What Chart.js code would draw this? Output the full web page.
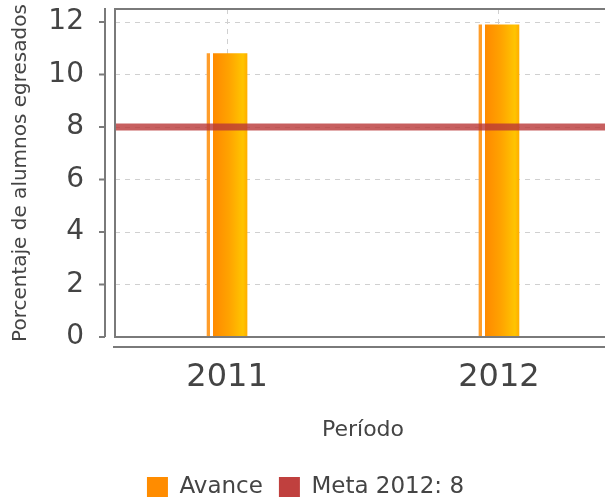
<!DOCTYPE html>
<html>
<head>
<meta charset="utf-8">
<script src="https://cdn.jsdelivr.net/npm/chart.js@4"></script>
<style>
  html, body { margin: 0; padding: 0; background: #fff; overflow: hidden; }
  #chart-wrap { width: 620px; height: 497px; }
</style>
</head>
<body>
<div id="chart-wrap"><canvas id="avance-chart" width="620" height="497"></canvas></div>
<script>
const categories = [2011, 2012];
const avance = [10.8, 11.9];
const metaValue = 8;
const yTicks = [0, 2, 4, 6, 8, 10, 12];

const textColor = "#444";
const fontFamily = "'DejaVu Sans', sans-serif";

// range of the period axis, a bit wider than the categories
const xMin = categories[0] - 0.412;
const xMax = categories[categories.length - 1] + 0.412;

function barFill(ctx) {
  const chart = ctx.chart;
  const xs = chart.scales.x;
  if (!xs || !ctx.raw) return "#ff8c00";
  const cx = xs.getPixelForValue(ctx.raw.x);
  if (!isFinite(cx)) return "#ff8c00";
  const g = chart.ctx.createLinearGradient(cx - 20, 0, cx + 20, 0);
  g.addColorStop(0, "#ff9d2a");
  g.addColorStop(0.07, "#ff9d2a");
  g.addColorStop(0.08, "#ffffff");
  g.addColorStop(0.15, "#ffffff");
  g.addColorStop(0.16, "#ff8a00");
  g.addColorStop(0.55, "#ffa300");
  g.addColorStop(0.9, "#ffc400");
  g.addColorStop(1, "#ffae00");
  return g;
}

// plot box, detached axis lines and tick marks
const axisDecor = {
  id: "axisDecor",
  afterDraw(chart) {
    const { ctx, chartArea, scales } = chart;
    ctx.save();
    ctx.strokeStyle = "#7a7a7a";
    ctx.lineWidth = 2;
    ctx.strokeRect(chartArea.left, chartArea.top, chartArea.right - chartArea.left, chartArea.bottom - chartArea.top);
    // y axis line
    const ax = chartArea.left - 10;
    ctx.beginPath();
    ctx.moveTo(ax, chartArea.top - 1);
    ctx.lineTo(ax, chartArea.bottom);
    yTicks.forEach((v) => {
      const y = scales.y.getPixelForValue(v);
      ctx.moveTo(ax - 6, y);
      ctx.lineTo(ax, y);
    });
    // x axis line
    const ay = chartArea.bottom + 10;
    ctx.moveTo(chartArea.left - 2, ay);
    ctx.lineTo(chart.width, ay);
    ctx.stroke();
    ctx.restore();
  },
};

const ctx = document.getElementById("avance-chart").getContext("2d");
new Chart(ctx, {
  type: "bar",
  data: {
    datasets: [
      {
        label: "Avance",
        data: categories.map((c, i) => ({ x: c, y: avance[i] })),
        backgroundColor: barFill,
        borderWidth: 0,
        barThickness: 40,
        order: 1,
      },
      {
        type: "line",
        label: "Meta 2012: " + metaValue,
        data: [{ x: xMin, y: metaValue }, { x: xMax, y: metaValue }],
        borderColor: "rgba(185, 55, 55, 0.8)",
        backgroundColor: "#c0403e",
        borderWidth: 7,
        pointRadius: 0,
        order: 0,
      },
    ],
  },
  options: {
    responsive: false,
    animation: false,
    layout: { padding: { top: 9, right: 9, bottom: -12, left: 0 } },
    plugins: {
      tooltip: { enabled: false },
      legend: {
        position: "bottom",
        labels: {
          color: textColor,
          font: { family: fontFamily, size: 23 },
          boxWidth: 21,
          boxHeight: 21,
          padding: 16,
          sort: (a, b) => a.datasetIndex - b.datasetIndex,
          generateLabels(chart) {
            const items = Chart.defaults.plugins.legend.labels.generateLabels(chart);
            const fills = ["#ff8c00", "#c0403e"];
            items.forEach((it) => {
              it.fillStyle = fills[it.datasetIndex];
              it.strokeStyle = fills[it.datasetIndex];
              it.lineWidth = 0;
            });
            return items;
          },
        },
      },
    },
    scales: {
      x: {
        type: "linear",
        offset: false,
        min: xMin,
        max: xMax,
        afterBuildTicks(axis) {
          axis.ticks = categories.map((v) => ({ value: v }));
        },
        afterFit(scale) {
          scale.height = 123;
        },
        grid: { color: "#d0d0d0", drawTicks: false, offset: false },
        border: { display: false, dash: [5, 5] },
        ticks: {
          color: textColor,
          font: { family: fontFamily, size: 32 },
          padding: 21,
          callback: (v) => String(v),
        },
        title: {
          display: true,
          text: "Período",
          color: textColor,
          font: { family: fontFamily, size: 22 },
          padding: { top: 0, bottom: 17 },
        },
      },
      y: {
        min: 0,
        max: 12.5,
        afterBuildTicks(axis) {
          axis.ticks = yTicks.map((v) => ({ value: v }));
        },
        afterFit(scale) {
          scale.width = 115;
          scale.paddingTop = 0;
          scale.paddingBottom = 0;
        },
        grid: { color: "#d0d0d0", drawTicks: false },
        border: { display: false, dash: [5, 5] },
        ticks: {
          color: textColor,
          font: { family: fontFamily, size: 28 },
          padding: 31,
        },
        title: {
          display: true,
          text: "Porcentaje de alumnos egresados",
          color: textColor,
          font: { family: fontFamily, size: 20 },
          padding: { top: 9, bottom: 0 },
        },
      },
    },
  },
  plugins: [axisDecor],
});
</script>
</body>
</html>
